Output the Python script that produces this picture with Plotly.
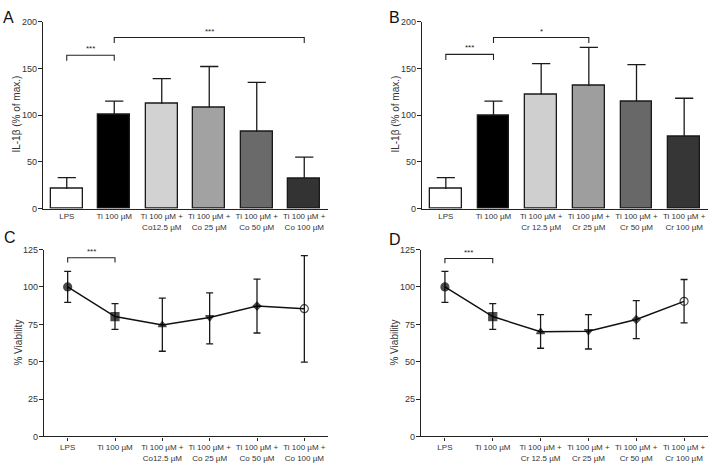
import plotly.graph_objects as go

# ---------------- data ----------------
labels_co = ["LPS", "Ti 100 µM", "Ti 100 µM +<br>Co12.5 µM", "Ti 100 µM +<br>Co 25 µM",
             "Ti 100 µM +<br>Co 50 µM", "Ti 100 µM +<br>Co 100 µM"]
labels_cr = ["LPS", "Ti 100 µM", "Ti 100 µM +<br>Cr 12.5 µM", "Ti 100 µM +<br>Cr 25 µM",
             "Ti 100 µM +<br>Cr 50 µM", "Ti 100 µM +<br>Cr 100 µM"]

il_co_mean = [21, 100, 112, 108, 82, 32]
il_co_upper = [33, 115, 139, 152, 135, 55]
il_cr_mean = [21, 99.5, 122, 131, 114.5, 77]
il_cr_upper = [33, 115, 155, 172.5, 154, 118]

via_co_mean = [100, 80.2, 74.6, 79.6, 87.2, 85.5]
via_co_upper = [110.5, 88.8, 92.6, 96.1, 105.2, 121]
via_co_lower = [89.7, 71.6, 57.0, 62.0, 69.2, 49.7]
via_cr_mean = [100, 80.2, 70.0, 70.4, 78.2, 90.4]
via_cr_upper = [110.5, 88.8, 81.5, 81.5, 90.9, 105]
via_cr_lower = [89.7, 71.6, 59.0, 58.5, 65.4, 76.0]

bar_colors_co = ["#ffffff", "#000000", "#d2d2d2", "#a2a2a2", "#6a6a6a", "#333333"]
bar_colors_cr = ["#ffffff", "#000000", "#cfcfcf", "#9e9e9e", "#686868", "#363636"]
point_symbols = ["circle", "square", "triangle-up", "triangle-down", "diamond", "circle-open"]
point_sizes = [8, 8, 7, 7, 6, 8]

# brackets: (start index, end index, height, label)
brackets_a = [(0, 1, 164, "***"), (1, 5, 183, "***")]
brackets_b = [(0, 1, 165, "***"), (1, 3, 183, "*")]
brackets_c = [(0, 1, 119.5, "***")]
brackets_d = [(0, 1, 119, "***")]

W, H = 709, 463
FONT = "Liberation Sans, Arial, Helvetica, sans-serif"
AX = "#222222"

def px_x(p):
    return p / W

def px_y(p):
    return 1 - p / H

fig = go.Figure()

panels = [
    ("A", "x", "y", (43, 328), (17, 208)),
    ("B", "x2", "y2", (422, 708), (17, 208)),
    ("C", "x3", "y3", (44, 328), (250, 441)),
    ("D", "x4", "y4", (421, 708), (250, 441)),
]

idx = list(range(6))

for (name, xa, ya, _, _), mean, upper, cols in [
    (panels[0], il_co_mean, il_co_upper, bar_colors_co),
    (panels[1], il_cr_mean, il_cr_upper, bar_colors_cr),
]:
    fig.add_trace(go.Bar(
        x=idx, y=mean, width=0.67, xaxis=xa, yaxis=ya,
        marker=dict(color=cols, line=dict(color="#1a1a1a", width=1.3)),
        showlegend=False, hoverinfo="skip",
    ))
    # upward-only error bars (mean + SD)
    ex, ey = [], []
    for i, m, u in zip(idx, mean, upper):
        ex += [i, i, None]
        ey += [m, u, None]
    fig.add_trace(go.Scatter(
        x=ex, y=ey, xaxis=xa, yaxis=ya, mode="lines",
        line=dict(color="#1a1a1a", width=1.3), showlegend=False, hoverinfo="skip",
    ))
    fig.add_trace(go.Scatter(
        x=idx, y=upper, xaxis=xa, yaxis=ya, mode="markers",
        marker=dict(symbol="line-ew", size=13, line=dict(color="#1a1a1a", width=1.3)),
        showlegend=False, hoverinfo="skip",
    ))

for (name, xa, ya, _, _), mean, upper, lower in [
    (panels[2], via_co_mean, via_co_upper, via_co_lower),
    (panels[3], via_cr_mean, via_cr_upper, via_cr_lower),
]:
    fig.add_trace(go.Scatter(
        x=idx, y=mean, xaxis=xa, yaxis=ya, mode="lines+markers",
        line=dict(color="#111111", width=1.5),
        marker=dict(symbol=point_symbols, size=point_sizes, color="#000000",
                    line=dict(color="#000000", width=1.2)),
        error_y=dict(type="data", symmetric=False,
                     array=[u - m for u, m in zip(upper, mean)],
                     arrayminus=[m - l for m, l in zip(mean, lower)],
                     color="#1a1a1a", thickness=1.3, width=3.5),
        showlegend=False, hoverinfo="skip",
    ))

annotations = []
for (name, xa, ya, _, _), brs, leg in [
    (panels[0], brackets_a, 6), (panels[1], brackets_b, 6),
    (panels[2], brackets_c, 3.2), (panels[3], brackets_d, 3.2),
]:
    for a, b, h, lab in brs:
        fig.add_trace(go.Scatter(
            x=[a, a, b, b], y=[h - leg, h, h, h - leg], xaxis=xa, yaxis=ya,
            mode="lines", line=dict(color="#222222", width=1.1),
            showlegend=False, hoverinfo="skip",
        ))
        annotations.append(dict(
            x=(a + b) / 2, y=h, xref=xa, yref=ya, text=lab, showarrow=False,
            yanchor="bottom", yshift=0, font=dict(size=8, color="#222222", family=FONT),
        ))

layout = dict(
    width=W, height=H, margin=dict(l=0, r=0, t=0, b=0),
    plot_bgcolor="white", paper_bgcolor="white",
    font=dict(family=FONT, color="#333333"),
    bargap=0,
)

for (name, xa, ya, xd, yd), labels, ymax, dtick, xticks in [
    (panels[0], labels_co, 200, 50, ""),
    (panels[1], labels_cr, 200, 50, ""),
    (panels[2], labels_co, 125, 25, "outside"),
    (panels[3], labels_cr, 125, 25, "outside"),
]:
    xk = "xaxis" + xa[1:]
    yk = "yaxis" + ya[1:]
    layout[xk] = dict(
        domain=[px_x(xd[0]), px_x(xd[1])], anchor=ya, range=[-0.5, 5.5],
        tickvals=idx, ticktext=labels, ticks=xticks, ticklen=3, tickwidth=1.1,
        tickcolor=AX, showline=True, linecolor=AX, linewidth=1.4,
        showgrid=False, zeroline=False, tickangle=0,
        tickfont=dict(size=8, color="#333333", family=FONT),
    )
    layout[yk] = dict(
        domain=[px_y(yd[1]), px_y(yd[0])], anchor=xa, range=[0, ymax],
        tickvals=list(range(0, ymax + 1, dtick)), ticks="outside", ticklen=4,
        tickwidth=1.2, tickcolor=AX, showline=True, linecolor=AX, linewidth=1.4,
        showgrid=False, zeroline=False, ticklabelstandoff=-1,
        tickfont=dict(size=9, color="#333333", family=FONT),
    )

for txt, x, y in [("A", 1, 2), ("B", 387, 2), ("C", 2, 227), ("D", 387, 229)]:
    annotations.append(dict(
        x=px_x(x), y=px_y(y), xref="paper", yref="paper", text=txt, showarrow=False,
        xanchor="left", yanchor="top", font=dict(size=16, color="#111111", family=FONT),
    ))

for txt, x, yc in [("IL-1β (% of max.)", 17, 112), ("IL-1β (% of max.)", 396, 112),
                   ("% Viability", 19, 345), ("% Viability", 395, 345)]:
    annotations.append(dict(
        x=px_x(x), y=px_y(yc), xref="paper", yref="paper", text=txt, showarrow=False,
        textangle=-90, xanchor="center", yanchor="middle",
        font=dict(size=10, color="#333333", family=FONT),
    ))

layout["annotations"] = annotations
fig.update_layout(**layout)
fig.write_html("out.html", config={"displayModeBar": False},
               post_script="document.body.style.margin='0';document.body.style.overflow='hidden';")
